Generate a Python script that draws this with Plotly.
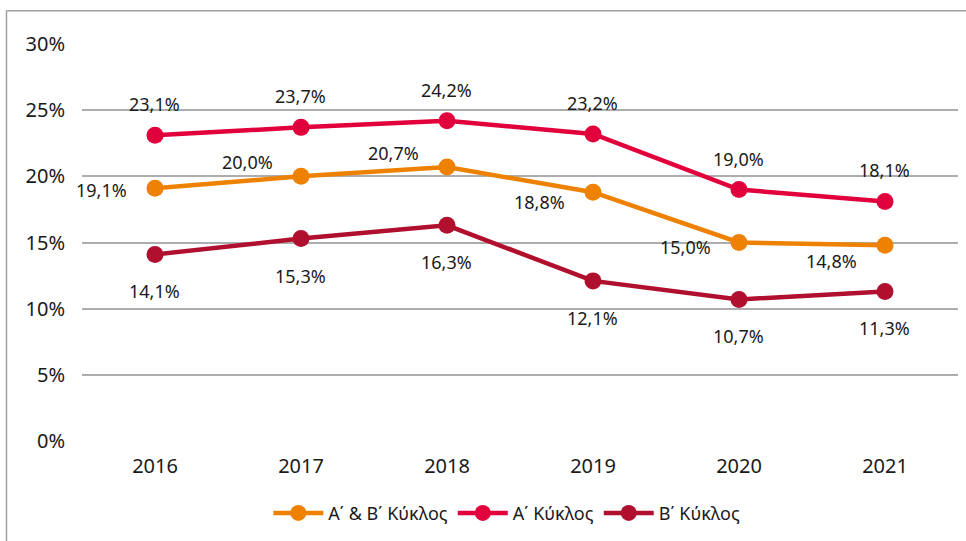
import plotly.graph_objects as go

years = ["2016", "2017", "2018", "2019", "2020", "2021"]
ab_cycle = [19.1, 20.0, 20.7, 18.8, 15.0, 14.8]
a_cycle = [23.1, 23.7, 24.2, 23.2, 19.0, 18.1]
b_cycle = [14.1, 15.3, 16.3, 12.1, 10.7, 11.3]
names = ["Α΄ & Β΄ Κύκλος", "Α΄ Κύκλος", "Β΄ Κύκλος"]
y_ticks = [0, 5, 10, 15, 20, 25, 30]
y_tick_text = ["0%", "5%", "10%", "15%", "20%", "25%", "30%"]

colors = ["#EE8200", "#E2003C", "#B0102E"]
# label offsets (pixels) per series / point
label_dx = [[-54] * 6, [-1] * 6, [-1] * 6]
label_dy = [[-2, 14, 14, -10, -4, -16], [31] * 6, [-37] * 6]

FONT = "Noto Sans"
fig = go.Figure()
series = [ab_cycle, a_cycle, b_cycle]
for s, vals in enumerate(series):
    fig.add_trace(go.Scatter(
        x=years, y=vals, name=names[s], mode="lines+markers",
        line=dict(color=colors[s], width=4.5),
        marker=dict(color=colors[s], size=17),
    ))
    for i, v in enumerate(vals):
        fig.add_annotation(
            x=i, y=v, xref="x", yref="y",
            text=f"{v:.1f}%".replace(".", ","), showarrow=False,
            xshift=label_dx[s][i], yshift=label_dy[s][i],
            font=dict(family=FONT, size=18, color="#1a1a1a"),
            xanchor="center", yanchor="middle",
        )

fig.update_layout(
    width=966, height=541,
    margin=dict(l=82, r=8, t=44, b=100),
    paper_bgcolor="white", plot_bgcolor="white",
    font=dict(family=FONT, size=20, color="#1a1a1a"),
    showlegend=True,
    legend=dict(orientation="h", x=0.485, xanchor="center", y=-0.182, yanchor="middle",
                font=dict(family=FONT, size=18, color="#1a1a1a"),
                itemwidth=50, traceorder="normal"),
    xaxis=dict(type="category", range=[-0.5, 5.5], showgrid=False, zeroline=False,
               showline=False, ticks="", ticklabelstandoff=11,
               tickfont=dict(family=FONT, size=20)),
    yaxis=dict(range=[0, 30], tickvals=y_ticks, ticktext=y_tick_text,
               showgrid=True, gridcolor="#ADADAD", gridwidth=1.5, zeroline=False,
               showline=False, ticks="", ticklabelstandoff=16,
               tickfont=dict(family=FONT, size=20)),
    shapes=[
        dict(type="line", xref="paper", yref="paper", x0=-0.0862, x1=1.2, y0=1.084, y1=1.084,
             line=dict(color="#A0A0A0", width=1.5)),
        dict(type="line", xref="paper", yref="paper", x0=-0.0862, x1=-0.0862, y0=1.084, y1=-0.4,
             line=dict(color="#A0A0A0", width=1.5)),
    ],
)
fig.write_html("out.html", config={"displayModeBar": False},
               post_script="document.body.style.margin='0';")
